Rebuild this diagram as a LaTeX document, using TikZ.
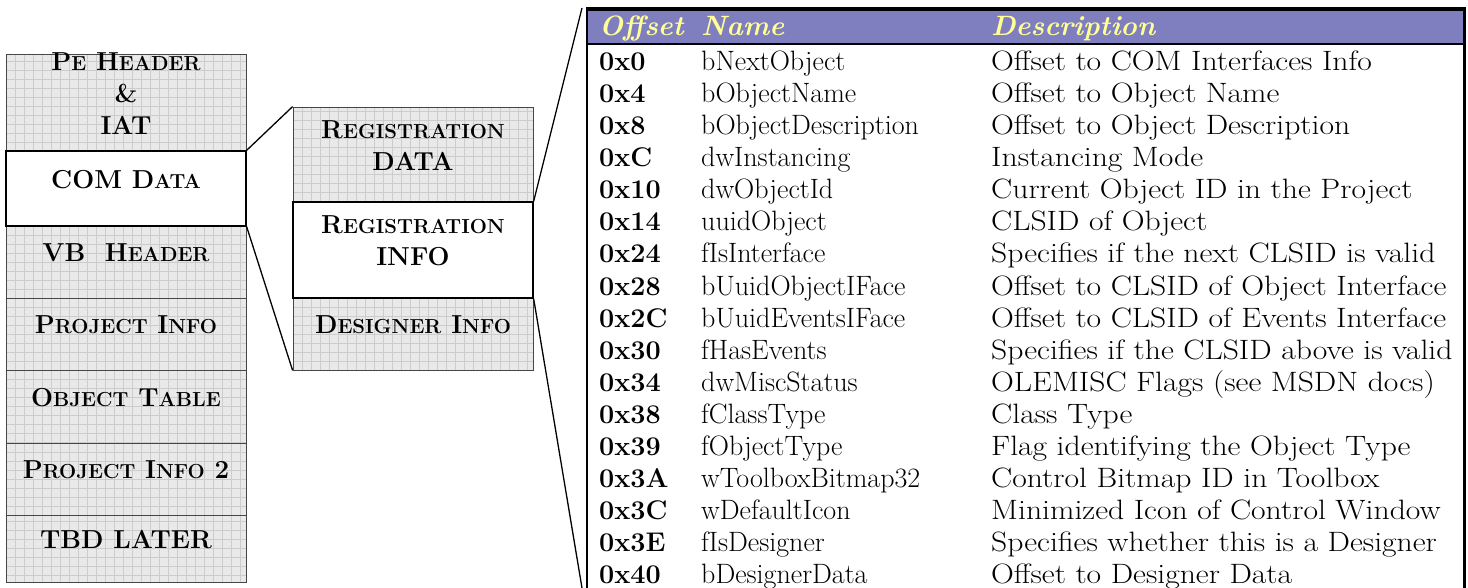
\documentclass[tikz,border=0pt]{standalone}
\usepackage{fontspec}
\setmainfont{Latin Modern Roman}
\newfontfamily\descfont{Latin Modern Roman}[FakeStretch=1.13]
\usetikzlibrary{fit}

\definecolor{hdrpurple}{RGB}{127,127,191}
\definecolor{hdryellow}{RGB}{255,255,150}

% small capitals drawn with reduced upper-case letters (bold)
\newcommand{\sm}[1]{{\fontsize{20.3}{20.3}\selectfont #1}}

\tikzset{
  hatched/.style={fill=gray!17, draw=gray!55!black, line width=0.8pt, inner sep=0pt,
    path picture={\draw[gray!40, line width=0.35pt, step=9pt]
      (path picture bounding box.south west) grid (path picture bounding box.north east);}},
  plainbox/.style={fill=white, draw=black, line width=1.3pt, inner sep=0pt},
  blk/.style={font=\fontsize{26}{32}\selectfont\bfseries, align=center},
  link/.style={draw=black, line width=1.3pt},
  hdr/.style={anchor=base west, inner sep=0pt, text=hdryellow,
    font=\fontsize{28}{30}\selectfont\bfseries\itshape},
  cell/.style={anchor=base west, inner sep=0pt, font=\fontsize{28}{30}\selectfont},
  offcell/.style={cell, font=\fontsize{27}{30}\selectfont\bfseries},
  desccell/.style={cell, font=\descfont\fontsize{28}{30}\selectfont},
}

\begin{document}
\begin{tikzpicture}[x=1pt, y=-1pt]
\useasboundingbox (0,0) rectangle (1468,588);

% file layout column
\node[hatched, blk, fit={(6,54) (246,151)}] (pe) {P\sm{E} H\sm{EADER}\\\&\\IAT};
\node[hatched, blk, fit={(6,226) (246,298)}] (vb) {VB\ \ H\sm{EADER}};
\node[hatched, blk, fit={(6,298) (246,370)}] (pinfo) {P\sm{ROJECT} I\sm{NFO}};
\node[hatched, blk, fit={(6,370) (246,443)}] (otable) {O\sm{BJECT} T\sm{ABLE}};
\node[hatched, blk, fit={(6,443) (246,515)}] (pinfo2) {P\sm{ROJECT} I\sm{NFO} 2};
\node[hatched, blk, fit={(6,515) (246,582)}] (tbd) {TBD LATER};
\node[plainbox, blk, fit={(6,151) (246,226)}] (com) {COM D\sm{ATA}};

% COM data breakdown
\node[hatched, blk, fit={(293,107) (533,202)}] (regdata) {R\sm{EGISTRATION}\\DATA};
\node[hatched, blk, fit={(293,298) (533,370)}] (designer) {D\sm{ESIGNER} I\sm{NFO}};
\node[plainbox, blk, fit={(293,202) (533,298)}] (reginfo) {R\sm{EGISTRATION}\\INFO};

% registration info table frame
\coordinate (ttop) at (582,8);
\coordinate (tbot) at (582,588);
\fill[black] (586,7) rectangle (1466,11);
\fill[hdrpurple] (588,11) rectangle (1463,43);
\draw[black, line width=2pt] (588,44) -- (1463,44);
\draw[black, line width=2pt] (587,7) -- (587,588);
\draw[black, line width=3.5pt] (1464.5,7) -- (1464.5,588);

\node[hdr] (h-off) at (599,36) {Offset};
\node[hdr] (h-name) at (701,36) {Name};
\node[hdr] (h-desc) at (991,36) {Description};

\foreach \o/\n/\d [count=\i from 0] in {
  0x0/bNextObject/Offset to COM Interfaces Info,
  0x4/bObjectName/Offset to Object Name,
  0x8/bObjectDescription/Offset to Object Description,
  0xC/dwInstancing/Instancing Mode,
  0x10/dwObjectId/Current Object ID in the Project,
  0x14/uuidObject/CLSID of Object,
  0x24/fIsInterface/Specifies if the next CLSID is valid,
  0x28/bUuidObjectIFace/Offset to CLSID of Object Interface,
  0x2C/bUuidEventsIFace/Offset to CLSID of Events Interface,
  0x30/fHasEvents/Specifies if the CLSID above is valid,
  0x34/dwMiscStatus/OLEMISC Flags (see MSDN docs),
  0x38/fClassType/Class Type,
  0x39/fObjectType/Flag identifying the Object Type,
  0x3A/wToolboxBitmap32/Control Bitmap ID in Toolbox,
  0x3C/wDefaultIcon/Minimized Icon of Control Window,
  0x3E/fIsDesigner/Specifies whether this is a Designer,
  0x40/bDesignerData/Offset to Designer Data}
{
  \node[offcell] (row-\i-o) at (599,71+32*\i) {\o};
  \node[cell] (row-\i-n) at (701,71+32*\i) {\n};
  \node[desccell] (row-\i-d) at (991,71+32*\i) {\d};
}

% zoom connectors
\draw[link] (com.north east) -- (regdata.north west);
\draw[link] (com.south east) -- (designer.south west);
\draw[link] (reginfo.north east) -- (ttop);
\draw[link] (reginfo.south east) -- (tbot);
\end{tikzpicture}
\end{document}
